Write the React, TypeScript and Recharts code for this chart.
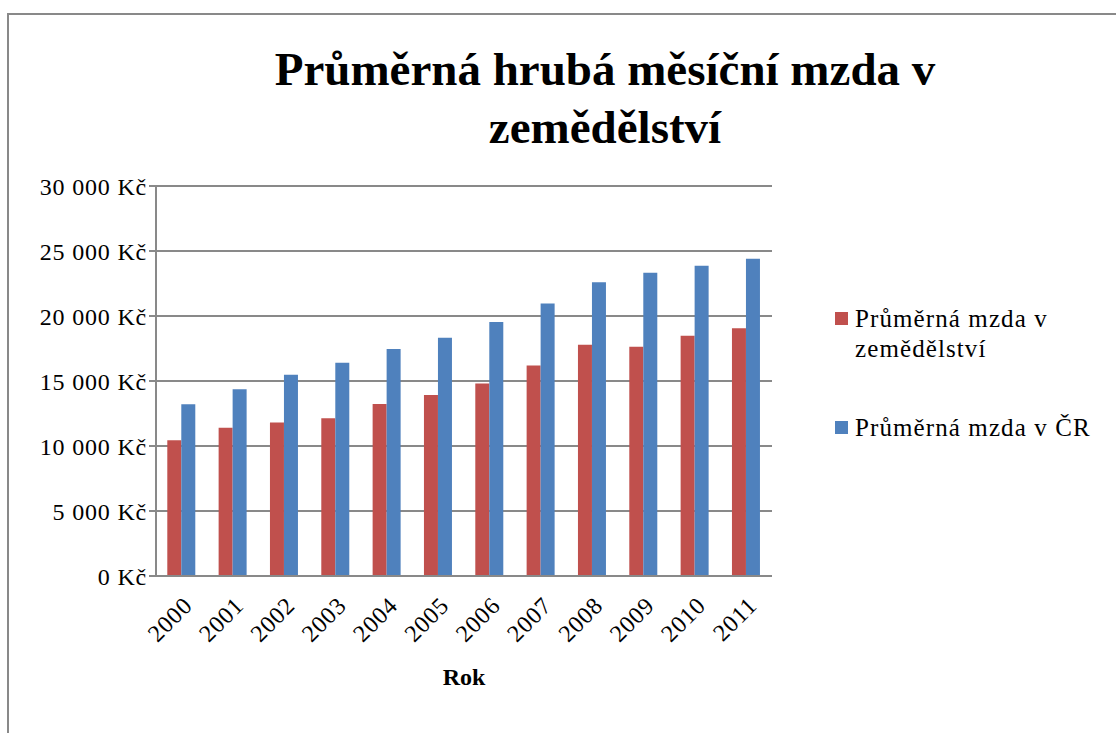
import { BarChart, Bar, XAxis, YAxis, CartesianGrid, Legend } from "recharts";

const years = ["2000", "2001", "2002", "2003", "2004", "2005", "2006", "2007", "2008", "2009", "2010", "2011"];
const agriWage = [10440, 11410, 11800, 12130, 13230, 13920, 14810, 16200, 17790, 17640, 18490, 19050];
const czWage = [13210, 14360, 15490, 16410, 17460, 18330, 19540, 20970, 22590, 23330, 23870, 24410];
const yTicks = [0, 5000, 10000, 15000, 20000, 25000, 30000];
const seriesNames = ["Průměrná mzda v zemědělství", "Průměrná mzda v ČR"];

const data = years.map((rok, i) => ({ rok, zemedelstvi: agriWage[i], cr: czWage[i] }));

const FONT = '"Liberation Serif", "Times New Roman", serif';
const GRID = "#898989";

// 25000 -> "25 000 Kč"
function formatKc(v: number) {
  if (v === 0) return "0 Kč";
  return `${Math.floor(v / 1000)} ${String(v % 1000).padStart(3, "0")} Kč`;
}

function LegendBox({ payload }: any) {
  return (
    <div style={{ fontFamily: FONT, fontSize: 25, lineHeight: "30px", letterSpacing: 1.1, color: "#000" }}>
      {(payload ?? []).map((item: any, i: number) => (
        <div key={i} style={{ display: "flex", alignItems: "flex-start", marginBottom: i === 0 ? 49 : 0 }}>
          <span
            style={{
              width: 13,
              height: 13,
              background: item.color,
              marginTop: 8,
              marginRight: 7,
              flexShrink: 0,
            }}
          />
          <span style={{ width: 250 }}>{item.value}</span>
        </div>
      ))}
    </div>
  );
}

export default function App() {
  return (
    <div
      style={{
        position: "fixed",
        left: 7,
        top: 13,
        width: 1109,
        height: 720,
        boxSizing: "border-box",
        borderLeft: `2px solid ${GRID}`,
        borderTop: `2px solid ${GRID}`,
        background: "#fff",
      }}
    >
      <div style={{ position: "relative", width: 1107, height: 718 }}>
        <div
          style={{
            position: "absolute",
            left: 196,
            top: 25,
            width: 800,
            textAlign: "center",
            fontFamily: FONT,
            fontWeight: "bold",
            fontSize: 47,
            lineHeight: "58px",
            whiteSpace: "nowrap",
            zIndex: 1,
          }}
        >
          Průměrná hrubá měsíční mzda v
          <br />
          zemědělství
        </div>
        <BarChart
          width={1107}
          height={718}
          data={data}
          margin={{ top: 171, right: 344, left: 0, bottom: 37 }}
          barCategoryGap="22%"
          barGap={0}
        >
          <CartesianGrid vertical={false} stroke={GRID} strokeWidth={2} />
          <XAxis
            dataKey="rok"
            interval={0}
            angle={-45}
            textAnchor="end"
            tickLine={false}
            tickMargin={13}
            axisLine={{ stroke: GRID, strokeWidth: 2 }}
            tick={{ fill: "#000", fontSize: 24, fontFamily: FONT, letterSpacing: 0.8 }}
            height={120}
            label={{
              value: "Rok",
              position: "insideBottom",
              offset: 11,
              fill: "#000",
              fontSize: 24,
              fontWeight: "bold",
              fontFamily: FONT,
            }}
          />
          <YAxis
            width={147}
            domain={[0, 30000]}
            ticks={yTicks}
            interval={0}
            tickFormatter={formatKc}
            tickSize={7}
            tickLine={{ stroke: GRID, strokeWidth: 2 }}
            axisLine={{ stroke: GRID, strokeWidth: 2 }}
            tick={{ fill: "#000", fontSize: 24, fontFamily: FONT, letterSpacing: 0.8 }}
          />
          <Legend
            layout="horizontal"
            align="center"
            verticalAlign="middle"
            content={<LegendBox />}
            wrapperStyle={{ left: 826, top: 289, width: 280 }}
          />
          <Bar dataKey="zemedelstvi" name={seriesNames[0]} fill="#C0504D" isAnimationActive={false} />
          <Bar dataKey="cr" name={seriesNames[1]} fill="#4F81BD" isAnimationActive={false} />
        </BarChart>
      </div>
    </div>
  );
}
